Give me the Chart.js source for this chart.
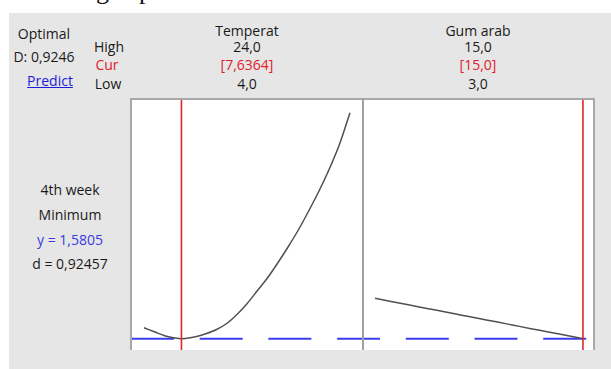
<!DOCTYPE html>
<html>
<head>
<meta charset="utf-8">
<script src="https://cdn.jsdelivr.net/npm/chart.js@4.4.1/dist/chart.umd.min.js"></script>
<style>
  html, body { margin: 0; padding: 0; background: #fff; }
  body { width: 611px; height: 369px; position: relative; overflow: hidden;
         font-family: "Open Sans", "Noto Sans", sans-serif; color: #1a1a1a; }
  #clipTop { position: absolute; left: 0; top: 0; width: 611px; height: 13px; overflow: hidden; }
  .serif { position: absolute; font-family: "Liberation Serif", serif; font-size: 26px; line-height: 1; color: #111; }
  #bg { position: absolute; left: 9px; top: 13px; width: 602px; height: 356px; background: #e6e6e6; }
  #frame { position: absolute; left: 130px; top: 98px; width: 461px; height: 250px; background: #fff;
           border-top: 2px solid #a8a8a8; border-left: 2px solid #a8a8a8; border-right: 2px solid #a8a8a8; }
  #divider { position: absolute; left: 362px; top: 98px; width: 2px; height: 252px; background: #a0a0a0; }
  canvas { position: absolute; }
  .t { position: absolute; transform: translate(-50%, -50%); white-space: nowrap; font-size: 14px; line-height: 1; }
  .red { color: #e0202a; }
  .blue { color: #3a3ae0; }
  .link { color: #1c1cd8; text-decoration: underline; }
</style>
</head>
<body>
<div id="clipTop">
  <span class="serif" style="left:96px; top:-22px;">g</span>
  <span class="serif" style="left:139px; top:-22px;">p</span>
</div>
<div id="bg"></div>
<div id="frame"></div>
<canvas id="tempChart" width="230" height="250" style="left:132px; top:100px; width:230px; height:250px;"></canvas>
<canvas id="gumChart" width="229" height="250" style="left:364px; top:100px; width:229px; height:250px;"></canvas>
<div id="divider"></div>

<div class="t" style="left:44px; top:34px;">Optimal</div>
<div class="t" style="left:44px; top:57px;">D: 0,9246</div>
<div class="t link" style="left:50px; top:81px;">Predict</div>

<div class="t" style="left:109px; top:47px;">High</div>
<div class="t red" style="left:107px; top:65px;">Cur</div>
<div class="t" style="left:108px; top:84px;">Low</div>

<div id="labels"></div>

<div class="t" style="left:70px; top:190px;">4th week</div>
<div class="t" style="left:70px; top:215px;">Minimum</div>
<div class="t blue" style="left:70px; top:240px;">y = 1,5805</div>
<div class="t" style="left:70px; top:264px;">d = 0,92457</div>

<script>
// Factor names and their settings
const factorNames = ["Temperat", "Gum arab"];
const highLabels  = ["24,0", "15,0"];
const curLabels   = ["[7,6364]", "[15,0]"];
const lowLabels   = ["4,0", "3,0"];
const curSettings = [7.6364, 15.0];

// Predicted response (4th week) across Temperat, Gum arab held at its setting
const tempLevels   = [4, 5, 6, 7, 7.6364, 8, 9, 10, 11, 12, 13, 14, 15, 16, 17, 18, 19, 20, 21, 22, 23, 24];
const tempResponse = [1.69, 1.65, 1.61, 1.587, 1.5805, 1.582, 1.60, 1.63, 1.67, 1.73, 1.82, 1.93, 2.06, 2.19, 2.34, 2.50, 2.67, 2.86, 3.06, 3.28, 3.53, 3.84];

// Predicted response across Gum arab, Temperat held at its setting
const gumLevels   = [3, 4, 5, 6, 7, 8, 9, 10, 11, 12, 13, 14, 15];
const gumResponse = [1.985, 1.951, 1.917, 1.883, 1.850, 1.816, 1.782, 1.749, 1.715, 1.681, 1.648, 1.614, 1.5805];

// Optimal response value and the vertical range shown in each panel
const yCurrent = 1.5805;
const yRange   = [1.4675, 3.9675];

// Horizontal ranges of each panel (factor range plus margin)
const tempRange = [2.835, 25.165];
const gumRange  = [2.365, 15.58];

// Header text above each panel
const panelCenters = [247, 478];
const labelBox = document.getElementById("labels");
function addLabel(text, x, y, cls) {
  const d = document.createElement("div");
  d.className = "t" + (cls ? " " + cls : "");
  d.style.left = x + "px";
  d.style.top = y + "px";
  d.textContent = text;
  labelBox.appendChild(d);
}
factorNames.forEach((name, i) => {
  addLabel(name, panelCenters[i], 31);
  addLabel(highLabels[i], panelCenters[i], 47);
  addLabel(curLabels[i], panelCenters[i], 65, "red");
  addLabel(lowLabels[i], panelCenters[i], 84);
});

function drawPanel(id, levels, response, xRange, cur, dashOffset) {
  new Chart(document.getElementById(id), {
    type: "scatter",
    data: {
      datasets: [
        {
          // current setting
          data: [{ x: cur, y: yRange[0] }, { x: cur, y: yRange[1] }],
          showLine: true, borderColor: "#e02626", borderWidth: 1.6,
          pointRadius: 0, order: 0
        },
        {
          // predicted response curve
          data: levels.map((x, i) => ({ x: x, y: response[i] })),
          showLine: true, borderColor: "#505050", borderWidth: 1.5,
          cubicInterpolationMode: "monotone", pointRadius: 0, order: 1
        },
        {
          // optimal response level
          data: [{ x: xRange[0], y: yCurrent }, { x: xRange[1], y: yCurrent }],
          showLine: true, borderColor: "#3c3cf0", borderWidth: 2,
          borderDash: [43, 25.7], borderDashOffset: dashOffset,
          pointRadius: 0, order: 2
        }
      ]
    },
    options: {
      responsive: false,
      animation: false,
      events: [],
      layout: { padding: 0 },
      plugins: { legend: { display: false }, tooltip: { enabled: false } },
      scales: {
        x: { type: "linear", display: false, min: xRange[0], max: xRange[1] },
        y: { type: "linear", display: false, min: yRange[0], max: yRange[1] }
      }
    }
  });
}

drawPanel("tempChart", tempLevels, tempResponse, tempRange, curSettings[0], 1);
drawPanel("gumChart", gumLevels, gumResponse, gumRange, curSettings[1], 26.9);
</script>
</body>
</html>
